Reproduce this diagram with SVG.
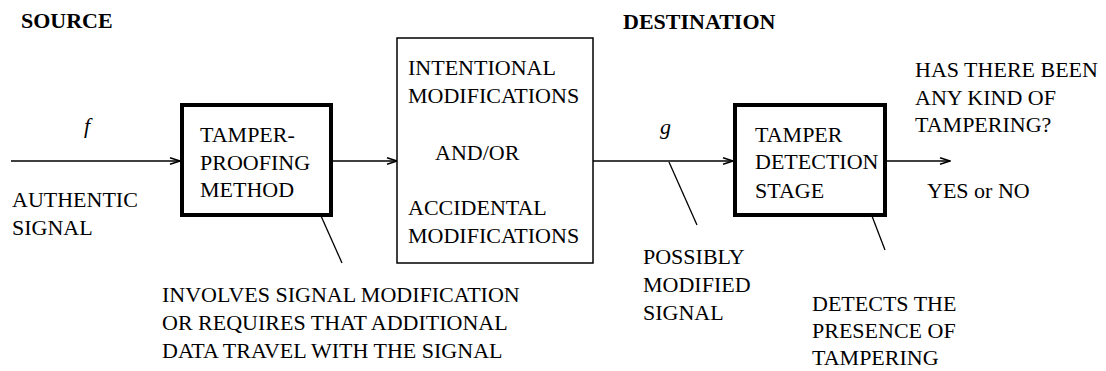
<svg xmlns="http://www.w3.org/2000/svg" width="1106" height="371" viewBox="0 0 1106 371" font-family="'Liberation Serif', Tinos, 'DejaVu Serif', serif">
  <style>
    text { font-family: "Liberation Serif", Tinos, "Times New Roman", "DejaVu Serif", serif; font-size: 22px; fill: #000; }
    .head { font-weight: bold; }
    .var { font-style: italic; }
    .thick { fill: #fff; stroke: #000; stroke-width: 4; }
    .thin { fill: #fff; stroke: #000; stroke-width: 1.5; }
    .wire { fill: none; stroke: #000; stroke-width: 1.5; }
    .lead { fill: none; stroke: #000; stroke-width: 1.3; }
  </style>
  <defs>
    <marker id="arrow" markerWidth="12" markerHeight="8" refX="11" refY="4" orient="auto" markerUnits="userSpaceOnUse">
      <path d="M1,0.8 L11,4 L1,7.2" fill="none" stroke="#000" stroke-width="1.5"/>
    </marker>
  </defs>

  <!-- section headings -->
  <text class="head" x="21" y="28">SOURCE</text>
  <text class="head" x="623" y="29">DESTINATION</text>

  <!-- signal path connectors and label leaders -->
  <g id="connectors">
    <line class="wire" x1="11" y1="161" x2="180" y2="161" marker-end="url(#arrow)"/>
    <line class="wire" x1="333" y1="161" x2="397" y2="161" marker-end="url(#arrow)"/>
    <line class="wire" x1="593" y1="161" x2="733" y2="161" marker-end="url(#arrow)"/>
    <line class="wire" x1="887" y1="161" x2="950" y2="161" marker-end="url(#arrow)"/>
    <line class="lead" x1="313" y1="198" x2="342" y2="263"/>
    <line class="lead" x1="669" y1="162" x2="697" y2="225"/>
    <line class="lead" x1="862" y1="190" x2="885" y2="250"/>
  </g>

  <!-- input signal -->
  <g id="input">
    <text class="var" x="84" y="133">f</text>
    <text x="12" y="207">AUTHENTIC</text>
    <text x="12" y="235">SIGNAL</text>
  </g>

  <!-- tamper-proofing block -->
  <g id="tamper-proofing">
    <rect class="thick" x="182" y="105" width="149" height="110"/>
    <text x="200" y="142">TAMPER-</text>
    <text x="200" y="170">PROOFING</text>
    <text x="200" y="197">METHOD</text>
  </g>
  <g id="proofing-note">
    <text x="162" y="302">INVOLVES SIGNAL MODIFICATION</text>
    <text x="162" y="330">OR REQUIRES THAT ADDITIONAL</text>
    <text x="162" y="358">DATA TRAVEL WITH THE SIGNAL</text>
  </g>

  <!-- channel modifications block -->
  <g id="modifications">
    <rect class="thin" x="397" y="38" width="196" height="225"/>
    <text x="408" y="75">INTENTIONAL</text>
    <text x="408" y="103">MODIFICATIONS</text>
    <text x="435" y="160">AND/OR</text>
    <text x="408" y="215">ACCIDENTAL</text>
    <text x="408" y="243">MODIFICATIONS</text>
  </g>

  <!-- received signal -->
  <g id="received">
    <text class="var" x="660" y="134">g</text>
    <text x="643" y="264">POSSIBLY</text>
    <text x="643" y="292">MODIFIED</text>
    <text x="643" y="320">SIGNAL</text>
  </g>

  <!-- tamper detection block -->
  <g id="tamper-detection">
    <rect class="thick" x="735" y="105" width="150" height="110"/>
    <text x="755" y="142">TAMPER</text>
    <text x="755" y="169">DETECTION</text>
    <text x="755" y="198">STAGE</text>
  </g>
  <g id="detection-note">
    <text x="812" y="311">DETECTS THE</text>
    <text x="812" y="338">PRESENCE OF</text>
    <text x="812" y="365">TAMPERING</text>
  </g>

  <!-- output decision -->
  <g id="output">
    <text x="915" y="77">HAS THERE BEEN</text>
    <text x="915" y="105">ANY KIND OF</text>
    <text x="915" y="132">TAMPERING?</text>
    <text x="927" y="198">YES or NO</text>
  </g>
</svg>
